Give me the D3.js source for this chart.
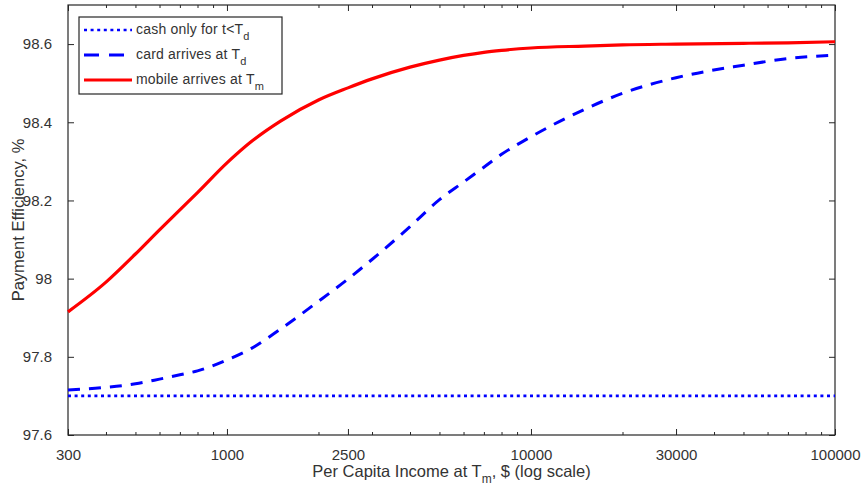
<!DOCTYPE html>
<html>
<head>
<meta charset="utf-8">
<script src="https://d3js.org/d3.v7.min.js"></script>
<style>
	body { margin: 0; background: #fff; }
	text { font-family: "Liberation Sans", Arial, sans-serif; fill: #333; }
</style>
</head>
<body>
<div class="chart"></div>
<script>
var width = 862;
var height = 487;
var margin = {left: 68, right: 27, top: 5, bottom: 52};

// income grid (x) and the three series
var income = [300, 400, 500, 600, 700, 800, 1000, 1200, 1500, 2000, 2500, 3000, 4000,
	5000, 6000, 7000, 8000, 10000, 15000, 20000, 30000, 50000, 70000, 100000];
var cardArrives = [97.715, 97.722, 97.731, 97.743, 97.754, 97.764, 97.792, 97.821, 97.871,
	97.942, 97.999, 98.049, 98.133, 98.202, 98.247, 98.285, 98.318, 98.363, 98.433,
	98.474, 98.514, 98.546, 98.563, 98.572];
var mobileArrives = [97.915, 97.991, 98.063, 98.125, 98.176, 98.220, 98.296, 98.350, 98.403,
	98.457, 98.488, 98.511, 98.541, 98.559, 98.571, 98.579, 98.584, 98.590, 98.595,
	98.598, 98.600, 98.602, 98.603, 98.606];
var cashIncome = [300, 100000];
var cashOnly = [97.7, 97.7];

var xMajorTicks = [300, 1000, 2500, 10000, 30000, 100000];
var xMinorTicks = [400, 500, 600, 700, 800, 900, 2000, 3000, 4000, 5000, 6000, 7000, 8000,
	9000, 20000, 40000, 50000, 60000, 70000, 80000, 90000];
var yTicks = [97.6, 97.8, 98, 98.2, 98.4, 98.6];

var legendItems = [
	{label: "cash only for t<T", sub: "d", color: "#0000ff", dash: "3,3.6", width: 2.6},
	{label: "card arrives at T", sub: "d", color: "#0000ff", dash: "15,10", width: 3},
	{label: "mobile arrives at T", sub: "m", color: "#ff0000", dash: null, width: 3}
];

var svg, x, y;

function draw() {
	svg = d3.select(".chart").append("svg")
		.attr("width", width)
		.attr("height", height);

	svg.append("rect")
		.attr("width", width).attr("height", height)
		.attr("fill", "#fff");

	x = d3.scaleLog().domain([300, 100000]).range([margin.left, width - margin.right]);
	y = d3.scaleLinear().domain([97.6, 98.7]).range([height - margin.bottom, margin.top]);

	draw_axes();
	draw_lines();
	draw_legend();
}

function draw_axes() {
	var x0 = x.range()[0], x1 = x.range()[1];
	var y0 = y.range()[0], y1 = y.range()[1];
	var ax = svg.append("g").attr("class", "axes");

	// bottom ticks with labels, top ticks mirrored (inward)
	var bottom = d3.axisBottom(x).tickValues(xMajorTicks).tickSizeInner(-6).tickSizeOuter(0)
		.tickFormat(d3.format("d")).tickPadding(14);
	ax.append("g").attr("transform", "translate(0," + y0 + ")").call(bottom);
	ax.append("g").attr("transform", "translate(0," + y0 + ")")
		.call(d3.axisBottom(x).tickValues(xMinorTicks).tickSizeInner(-3).tickSizeOuter(0).tickFormat(""));
	ax.append("g").attr("transform", "translate(0," + y1 + ")")
		.call(d3.axisTop(x).tickValues(xMajorTicks).tickSizeInner(-6).tickSizeOuter(0).tickFormat(""));
	ax.append("g").attr("transform", "translate(0," + y1 + ")")
		.call(d3.axisTop(x).tickValues(xMinorTicks).tickSizeInner(-3).tickSizeOuter(0).tickFormat(""));

	var left = d3.axisLeft(y).tickValues(yTicks).tickSizeInner(-6).tickSizeOuter(0)
		.tickFormat(d3.format("")).tickPadding(16);
	ax.append("g").attr("transform", "translate(" + x0 + ",0)").call(left);
	ax.append("g").attr("transform", "translate(" + x1 + ",0)")
		.call(d3.axisRight(y).tickValues(yTicks).tickSizeInner(-6).tickSizeOuter(0).tickFormat(""));

	ax.selectAll(".domain").remove();
	ax.selectAll(".tick line").attr("stroke", "#262626");
	ax.selectAll(".tick text").attr("font-size", "15px")
		.attr("font-family", "Liberation Sans, Arial, sans-serif").attr("fill", "#333");

	// box
	ax.append("rect")
		.attr("x", x0).attr("y", y1)
		.attr("width", x1 - x0).attr("height", y0 - y1)
		.attr("fill", "none").attr("stroke", "#262626").attr("stroke-width", 1.2);

	// axis titles
	var xt = svg.append("text")
		.attr("x", (x0 + x1) / 2).attr("y", 477)
		.attr("text-anchor", "middle").attr("font-size", "16.5px");
	xt.append("tspan").text("Per Capita Income at T");
	xt.append("tspan").attr("font-size", "12px").attr("dy", 6).text("m");
	xt.append("tspan").attr("dy", -6).text(", $ (log scale)");

	svg.append("text")
		.attr("transform", "translate(24," + (y0 + y1) / 2 + ") rotate(-90)")
		.attr("text-anchor", "middle").attr("font-size", "16.5px")
		.text("Payment Efficiency, %");
}

function draw_lines() {
	var line = d3.line()
		.x(function(d) { return x(d[0]); })
		.y(function(d) { return y(d[1]); })
		.curve(d3.curveMonotoneX);

	var g = svg.append("g").attr("class", "lines");

	g.append("path")
		.datum(d3.zip(cashIncome, cashOnly))
		.attr("d", line).attr("fill", "none")
		.attr("stroke", "#0000ff").attr("stroke-width", 2.6)
		.attr("stroke-dasharray", "3,3.6");

	g.append("path")
		.datum(d3.zip(income, cardArrives))
		.attr("d", line).attr("fill", "none")
		.attr("stroke", "#0000ff").attr("stroke-width", 3)
		.attr("stroke-dasharray", "12,9");

	g.append("path")
		.datum(d3.zip(income, mobileArrives))
		.attr("d", line).attr("fill", "none")
		.attr("stroke", "#ff0000").attr("stroke-width", 3.2);
}

function draw_legend() {
	var lg = svg.append("g").attr("class", "legend");
	lg.append("rect")
		.attr("x", 79).attr("y", 17).attr("width", 203).attr("height", 77)
		.attr("fill", "#fff").attr("stroke", "#262626").attr("stroke-width", 1.2);

	var rows = lg.selectAll("g.row").data(legendItems).enter().append("g")
		.attr("class", "row")
		.attr("transform", function(d, i) { return "translate(0," + (30 + i * 25) + ")"; });

	rows.append("line")
		.attr("x1", 84).attr("x2", 132).attr("y1", 0).attr("y2", 0)
		.attr("stroke", function(d) { return d.color; })
		.attr("stroke-width", function(d) { return d.width; })
		.attr("stroke-dasharray", function(d) { return d.dash; });

	var t = rows.append("text").attr("x", 136).attr("y", 4).attr("font-size", "14px")
		.attr("letter-spacing", "0.2px");
	t.append("tspan").text(function(d) { return d.label; });
	t.append("tspan").attr("font-size", "11px").attr("dy", 6).text(function(d) { return d.sub; });
}

draw();
</script>
</body>
</html>
